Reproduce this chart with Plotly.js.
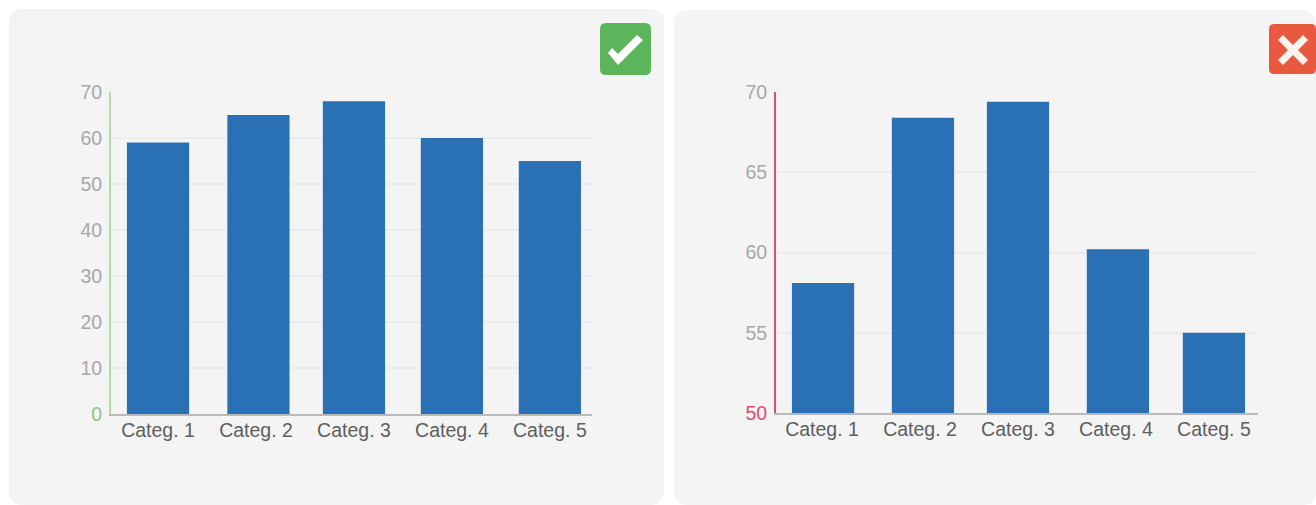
<!DOCTYPE html>
<html>
<head>
<meta charset="utf-8">
<script src="https://cdn.plot.ly/plotly-3.0.1.min.js"></script>
<style>html,body{margin:0;padding:0;background:#fff}#chart{width:1316px;height:505px}</style>
</head>
<body>
<div id="chart"></div>
<script>
var categories = ['Categ. 1', 'Categ. 2', 'Categ. 3', 'Categ. 4', 'Categ. 5'];
var goodValues = [59, 65, 68, 60, 55];
var badValues = [58.1, 68.4, 69.4, 60.2, 55];
var goodTickValues = [0, 10, 20, 30, 40, 50, 60, 70];
var goodTickLabels = ['<span style="color:#8cc084">0</span>', '10', '20', '30', '40', '50', '60', '70'];
var badTickValues = [50, 55, 60, 65, 70];
var badTickLabels = ['<span style="color:#d9506f">50</span>', '55', '60', '65', '70'];
var goodBarOffsets = [-0.3175, -0.2925, -0.3175, -0.3175, -0.3175];
var badBarOffsets = [-0.3075, -0.2875, -0.3175, -0.2975, -0.3175];

var W = 1316, H = 505;
function px(x) { return x / W; }
function py(y) { return 1 - y / H; }
function rr(x0, y0, x1, y1, r) {
  var X0 = px(x0), X1 = px(x1), Y0 = py(y0), Y1 = py(y1), rx = r / W, ry = r / H;
  return 'M' + (X0 + rx) + ',' + Y0 + ' L' + (X1 - rx) + ',' + Y0 + ' Q' + X1 + ',' + Y0 + ' ' + X1 + ',' + (Y0 - ry) +
    ' L' + X1 + ',' + (Y1 + ry) + ' Q' + X1 + ',' + Y1 + ' ' + (X1 - rx) + ',' + Y1 +
    ' L' + (X0 + rx) + ',' + Y1 + ' Q' + X0 + ',' + Y1 + ' ' + X0 + ',' + (Y1 + ry) +
    ' L' + X0 + ',' + (Y0 - ry) + ' Q' + X0 + ',' + Y0 + ' ' + (X0 + rx) + ',' + Y0 + ' Z';
}
function poly(pts) {
  return pts.map(function (p, i) { return (i ? 'L' : 'M') + px(p[0]) + ',' + py(p[1]); }).join(' ') + ' Z';
}
function pathShape(path, fill, extra) {
  return Object.assign({ type: 'path', xref: 'paper', yref: 'paper', path: path, fillcolor: fill, line: { width: 0 }, layer: 'below' }, extra || {});
}
var crossShape = [[-15,-10],[-10,-15],[0,-5],[10,-15],[15,-10],[5,0],[15,10],[10,15],[0,5],[-10,15],[-15,10],[-5,0]];

var barColor = '#2a70b5';
var traces = [
  { type: 'bar', x: categories, y: goodValues, xaxis: 'x', yaxis: 'y', width: 0.635, offset: goodBarOffsets, marker: { color: barColor }, hoverinfo: 'x+y' },
  { type: 'bar', x: categories, y: badValues, xaxis: 'x2', yaxis: 'y2', width: 0.635, offset: badBarOffsets, marker: { color: barColor }, hoverinfo: 'x+y' }
];

function xAxis(domainPx, range, anchor) {
  return {
    domain: [px(domainPx[0]), px(domainPx[1])], range: range, anchor: anchor, type: 'category',
    showgrid: false, showline: true, linecolor: '#b9b9b9', linewidth: 1.5, zeroline: false,
    ticks: '', ticklabelstandoff: -2, tickangle: 0,
    tickfont: { family: 'Liberation Sans, Arial, sans-serif', size: 19.5, color: '#5e5e5e' }
  };
}
function yAxis(topPx, botPx, range, vals, labels, color, anchor) {
  return {
    domain: [py(botPx), py(topPx)], range: range, anchor: anchor,
    tickmode: 'array', tickvals: vals, ticktext: labels,
    showgrid: true, gridcolor: '#ebebeb', gridwidth: 1.5,
    showline: true, linecolor: color, linewidth: 2, zeroline: false,
    ticks: '', ticklabelstandoff: 3,
    tickfont: { family: 'Liberation Sans, Arial, sans-serif', size: 19.5, color: '#a8a8a8' }
  };
}

var layout = {
  width: W, height: H,
  margin: { l: 0, r: 0, t: 0, b: 0 },
  paper_bgcolor: '#ffffff',
  plot_bgcolor: 'rgba(0,0,0,0)',
  showlegend: false,
  xaxis: xAxis([111, 592], [-0.48, 4.43], 'y'),
  yaxis: yAxis(92, 414, [0, 70], goodTickValues, goodTickLabels, '#b4dbab', 'x'),
  xaxis2: xAxis([776, 1258], [-0.47, 4.45], 'y2'),
  yaxis2: yAxis(92, 413, [50, 70], badTickValues, badTickLabels, '#d9506f', 'x2'),
  shapes: [
    pathShape(rr(9, 9, 664, 505, 14), '#f4f4f4'),
    pathShape(rr(674, 10, 1316, 505, 14), '#f4f4f4'),
    pathShape(rr(600, 23, 651, 75, 6), '#5cb55a', { layer: 'above' }),
    pathShape(poly([[608, 53], [612, 48], [618, 54], [637, 35], [643, 40], [618, 65]]), '#ffffff', { layer: 'above' }),
    pathShape(rr(1269, 24, 1316, 74, 5), '#e8593f', { layer: 'above' }),
    pathShape(poly(crossShape.map(function (p) { return [1293 + p[0], 50 + p[1]]; })), '#fbf3f0', { layer: 'above' })
  ]
};

Plotly.newPlot('chart', traces, layout, { displayModeBar: false, responsive: false });
</script>
</body>
</html>
